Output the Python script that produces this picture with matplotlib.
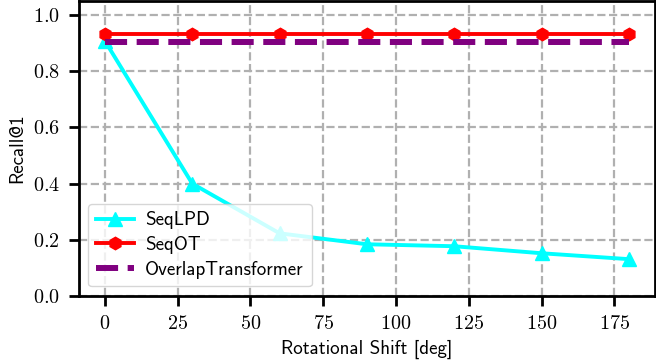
import matplotlib
matplotlib.use('Agg')
import matplotlib.pyplot as plt

shifts = [0, 30, 60, 90, 120, 150, 180]
seqlpd = [0.908, 0.40, 0.223, 0.184, 0.177, 0.152, 0.131]
seqot = [0.933, 0.933, 0.933, 0.933, 0.933, 0.933, 0.933]
overlap = [0.904, 0.904, 0.904, 0.904, 0.904, 0.904, 0.904]

plt.rcParams['font.family'] = ['cmss10', 'DejaVu Sans']
plt.rcParams['axes.formatter.use_mathtext'] = True

fig = plt.figure(figsize=(6.56, 3.64), dpi=100)
ax = fig.add_axes([0.12, 0.187, 0.8785, 0.81])

ax.plot(shifts, seqlpd, color='cyan', marker='^', markersize=10, linewidth=2.8, label='SeqLPD')
ax.plot(shifts, seqot, color='red', marker='h', markersize=9, linewidth=2.8, label='SeqOT')
ax.plot(shifts, overlap, color='purple', linestyle='--', linewidth=4.3, label='OverlapTransformer')

ax.set_ylim(0, 1.05)
ax.set_xticks([0, 25, 50, 75, 100, 125, 150, 175])
ax.set_yticks([0.0, 0.2, 0.4, 0.6, 0.8, 1.0])
ax.grid(True, linestyle='--', color='#b0b0b0', linewidth=1.6)
ax.set_axisbelow(True)

for lab in ax.get_xticklabels() + ax.get_yticklabels():
    lab.set_fontfamily('cmr10')
    lab.set_fontsize(14.5)
ax.tick_params(width=2, length=7, pad=6.5)
for s in ax.spines.values():
    s.set_linewidth(2)

ax.set_xlabel('Rotational Shift [deg]', fontsize=13.7, labelpad=5)
ax.set_ylabel('Recall@1', fontsize=13.7, labelpad=5)
ax.legend(loc='lower left', fontsize=13.7, labelspacing=0.35, handletextpad=0.6)

fig.savefig('out.png', dpi=100)
